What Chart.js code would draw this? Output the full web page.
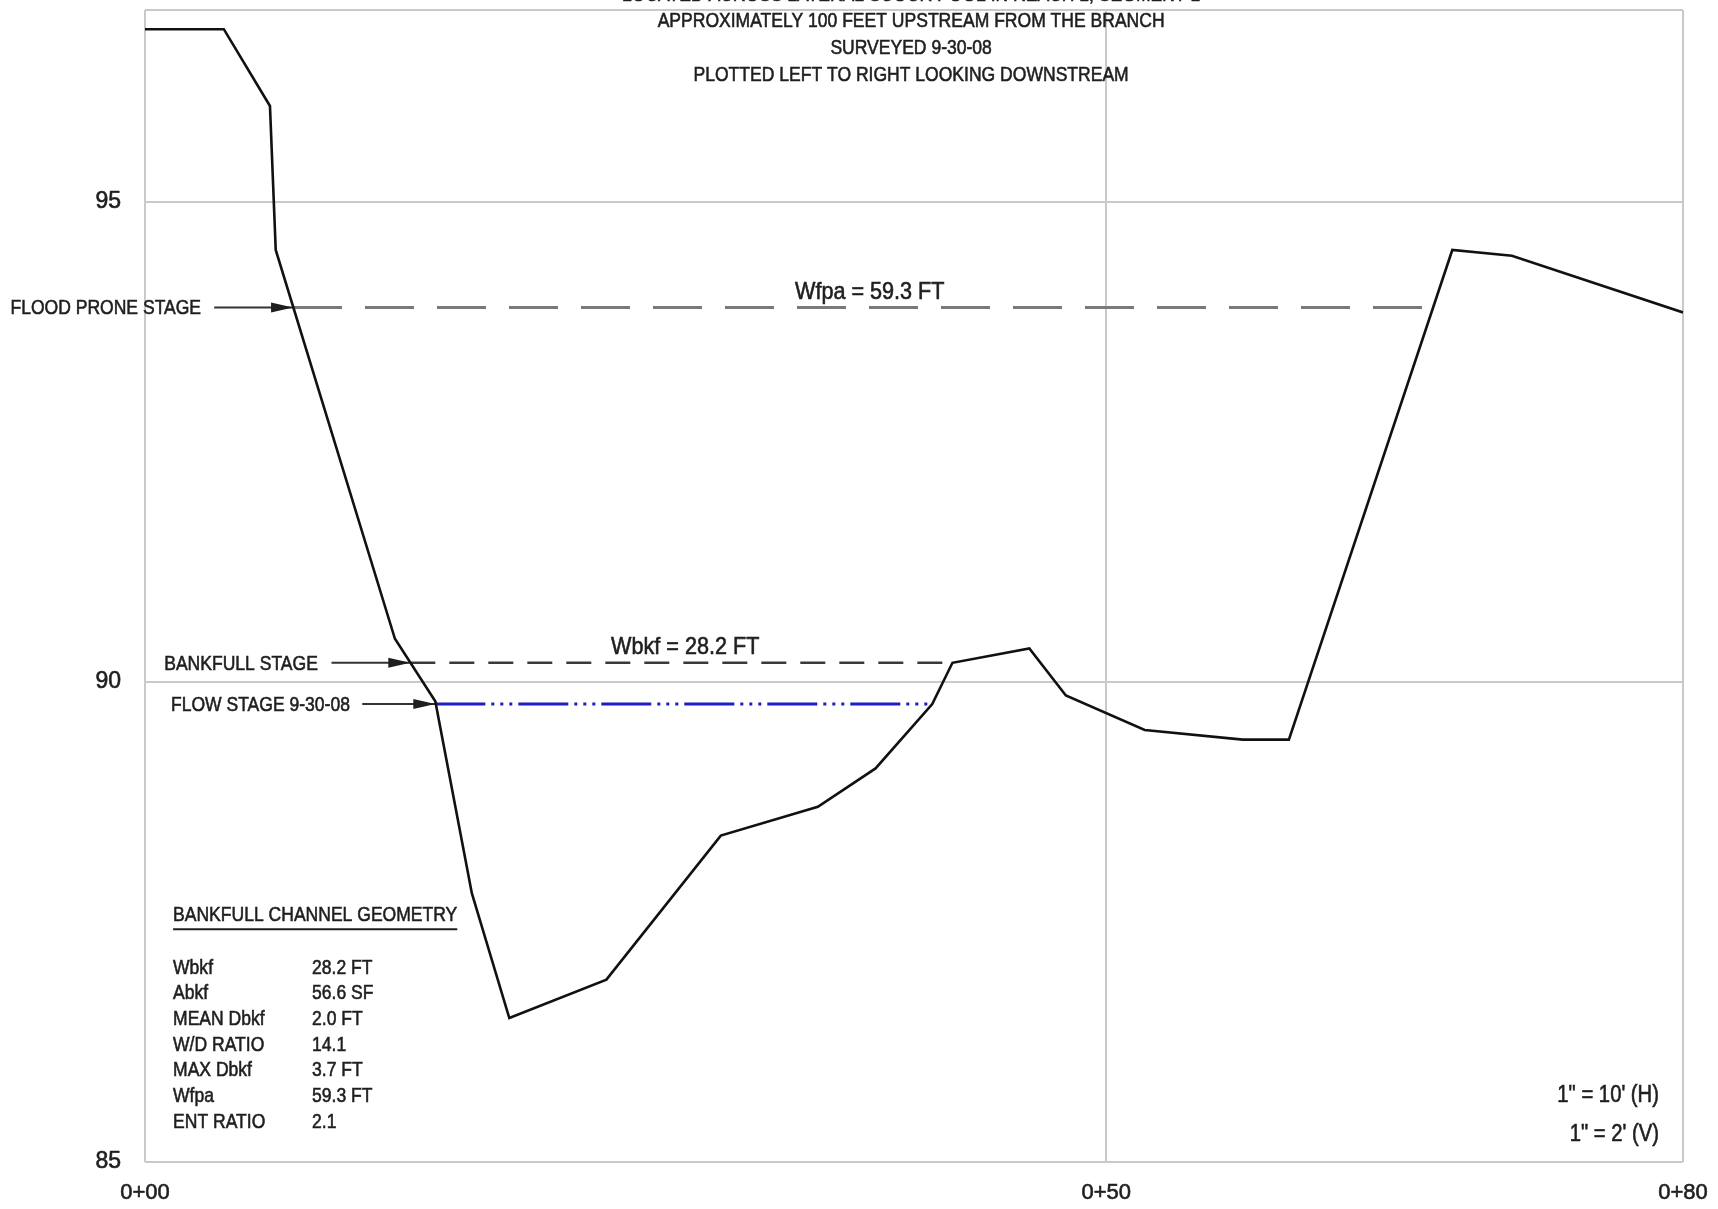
<!DOCTYPE html>
<html>
<head>
<meta charset="utf-8">
<script src="https://cdn.jsdelivr.net/npm/chart.js@4.4.1/dist/chart.umd.min.js"></script>
<style>
  html, body { margin: 0; padding: 0; background: #fff; }
  #wrap { width: 1718px; height: 1209px; }
</style>
</head>
<body>
<div id="wrap"><canvas id="xsChart"></canvas></div>
<script>
// cross section survey (station in ft, elevation in ft)
const stations   = [0, 4.1, 6.5, 6.8, 13.0, 15.1, 17.0, 18.95, 24.0, 29.95, 35.0, 38.0, 40.95, 42.0, 46.0, 47.9, 52.0, 57.1, 59.5, 68.0, 71.1, 80.0];
const elevations = [96.8, 96.8, 96.0, 94.5, 90.45, 89.8, 87.8, 86.5, 86.9, 88.4, 88.7, 89.1, 89.77, 90.2, 90.35, 89.86, 89.5, 89.4, 89.4, 94.5, 94.44, 93.85];

// stage lines: flood prone, bankfull, flow
const stageNames   = ['FLOOD PRONE STAGE', 'BANKFULL STAGE', 'FLOW STAGE 9-30-08'];
const stageElev    = [93.9, 90.2, 89.77];
const stageStart   = [7.7, 13.8, 15.1];
const stageEnd     = [67.0, 42.0, 40.95];
const leaderStart  = [3.6, 9.7, 11.3];
const labelStation = [-7.0, 1.0, 1.35];

const widthLabels   = ['Wfpa = 59.3 FT', 'Wbkf = 28.2 FT'];
const widthStations = [37.7, 28.1];

const geomNames  = ['Wbkf', 'Abkf', 'MEAN Dbkf', 'W/D RATIO', 'MAX Dbkf', 'Wfpa', 'ENT RATIO'];
const geomValues = ['28.2 FT', '56.6 SF', '2.0 FT', '14.1', '3.7 FT', '59.3 FT', '2.1'];

const titleLines = [
  'LOCATED ACROSS LATERAL SCOUR POOL IN REACH 1, SEGMENT 1',
  'APPROXIMATELY 100 FEET UPSTREAM FROM THE BRANCH',
  'SURVEYED 9-30-08',
  'PLOTTED LEFT TO RIGHT LOOKING DOWNSTREAM'
];
const scaleNotes = ['1" = 10\' (H)', '1" = 2\' (V)'];

const xTicks = [0, 50, 80];
const xTickLabels = ['0+00', '0+50', '0+80'];
const yTicks = [85, 90, 95];
const yMax = 97;

const FONT = '"Liberation Sans", Arial, sans-serif';
const INK = '#1e1e1e';

function pts(xs, ys) {
  return xs.map((v, i) => ({ x: v, y: ys[i] }));
}

// squeezed text, closer to the narrow CAD lettering
function narrow(ctx, text, x, y, sx) {
  ctx.save();
  ctx.translate(x, y);
  ctx.scale(sx, 1);
  ctx.strokeText(text, 0, 0);
  ctx.fillText(text, 0, 0);
  ctx.restore();
}

const stageStyles = [
  { color: '#7a7a7a', width: 3, dash: [49, 23] },
  { color: '#3a3a3a', width: 2.5, dash: [25, 14] },
  { color: '#1d1dc4', width: 3, dash: [50, 6, 3, 6, 3, 6, 3, 6] }
];

const datasets = [{
  data: pts(stations, elevations),
  borderColor: '#111',
  borderWidth: 2.6,
  pointRadius: 0
}];
stageElev.forEach((e, i) => {
  datasets.push({
    data: [{ x: leaderStart[i], y: e }, { x: stageStart[i], y: e }],
    borderColor: '#333', borderWidth: 2, pointRadius: 0
  });
  datasets.push({
    data: [{ x: stageStart[i], y: e }, { x: stageEnd[i], y: e }],
    borderColor: stageStyles[i].color,
    borderWidth: stageStyles[i].width,
    borderDash: stageStyles[i].dash,
    pointRadius: 0
  });
});

// text, arrowheads and the geometry table
const annotations = {
  id: 'annotations',
  afterDatasetsDraw(chart) {
    const { ctx, chartArea, scales: { x, y } } = chart;
    ctx.save();
    ctx.fillStyle = INK;
    ctx.strokeStyle = INK;
    ctx.lineWidth = 0.6;

    ctx.font = '21px ' + FONT;
    ctx.textAlign = 'center';
    ctx.textBaseline = 'middle';
    const cx = x.getPixelForValue(39.85);
    titleLines.forEach((t, i) => narrow(ctx, t, cx, chartArea.top - 15 + i * 26.7, 0.835));

    // stage labels with arrowheads
    ctx.textAlign = 'left';
    stageNames.forEach((n, i) => {
      const py = y.getPixelForValue(stageElev[i]);
      narrow(ctx, n, x.getPixelForValue(labelStation[i]), py + 1, 0.835);
      const tx = x.getPixelForValue(stageStart[i]);
      ctx.beginPath();
      ctx.moveTo(tx, py);
      ctx.lineTo(tx - 22, py - 5);
      ctx.lineTo(tx - 22, py + 5);
      ctx.closePath();
      ctx.fill();
    });

    ctx.font = '24px ' + FONT;
    ctx.textAlign = 'center';
    ctx.textBaseline = 'bottom';
    widthLabels.forEach((t, i) => {
      narrow(ctx, t, x.getPixelForValue(widthStations[i]), y.getPixelForValue(stageElev[i]) - 3, 0.9);
    });

    // table
    ctx.font = '21px ' + FONT;
    ctx.textAlign = 'left';
    ctx.textBaseline = 'middle';
    const tx0 = x.getPixelForValue(1.46);
    const tx1 = x.getPixelForValue(8.69);
    const ty = y.getPixelForValue(87.57);
    const head = 'BANKFULL CHANNEL GEOMETRY';
    narrow(ctx, head, tx0, ty, 0.835);
    ctx.lineWidth = 2;
    ctx.beginPath();
    ctx.moveTo(tx0, ty + 14);
    ctx.lineTo(tx0 + ctx.measureText(head).width * 0.835, ty + 14);
    ctx.stroke();
    ctx.lineWidth = 0.6;
    geomNames.forEach((n, i) => {
      const ry = ty + 52.5 + i * 25.7;
      narrow(ctx, n, tx0, ry, 0.835);
      narrow(ctx, geomValues[i], tx1, ry, 0.835);
    });

    // scale notes
    ctx.font = '23px ' + FONT;
    ctx.textAlign = 'right';
    const sx = x.getPixelForValue(78.75);
    narrow(ctx, scaleNotes[0], sx, y.getPixelForValue(85.69), 0.88);
    narrow(ctx, scaleNotes[1], sx, y.getPixelForValue(85.29), 0.88);
    ctx.restore();
  }
};

new Chart(document.getElementById('xsChart').getContext('2d'), {
  type: 'line',
  data: { datasets: datasets },
  plugins: [annotations],
  options: {
    responsive: true,
    maintainAspectRatio: false,
    animation: false,
    layout: { padding: { top: 10, right: 35, left: 0, bottom: 0 } },
    plugins: { legend: { display: false }, tooltip: { enabled: false } },
    elements: { line: { tension: 0 } },
    scales: {
      x: {
        type: 'linear',
        min: 0,
        max: 80,
        afterBuildTicks: (s) => { s.ticks = xTicks.map(v => ({ value: v })); },
        afterFit: (s) => { s.height = 47; s.paddingLeft = 0; s.paddingRight = 0; },
        ticks: {
          color: INK,
          textStrokeColor: INK,
          textStrokeWidth: 0.6,
          padding: 18,
          maxRotation: 0,
          font: { family: FONT, size: 22 },
          callback: (v) => xTickLabels[xTicks.indexOf(v)]
        },
        grid: { color: '#c9c9c9', lineWidth: 2, drawTicks: false },
        border: { display: false }
      },
      y: {
        type: 'linear',
        min: 85,
        max: yMax,
        afterBuildTicks: (s) => { s.ticks = yTicks.concat([yMax]).map(v => ({ value: v })); },
        afterFit: (s) => { s.width = 145; s.paddingTop = 0; s.paddingBottom = 0; },
        ticks: {
          color: INK,
          textStrokeColor: INK,
          textStrokeWidth: 0.6,
          padding: 24,
          font: { family: FONT, size: 23 },
          callback: (v) => yTicks.includes(v) ? String(v) : ''
        },
        grid: { color: '#c9c9c9', lineWidth: 2, drawTicks: false },
        border: { display: false }
      }
    }
  }
});
</script>
</body>
</html>
